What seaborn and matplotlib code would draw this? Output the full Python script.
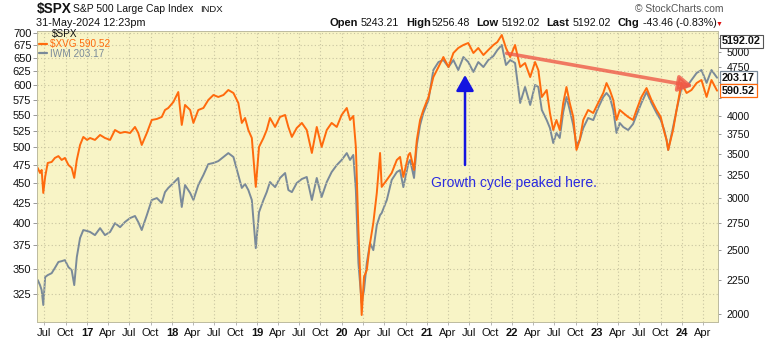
import matplotlib
matplotlib.use("Agg")
import matplotlib.pyplot as plt
import matplotlib.dates as mdates
import matplotlib.transforms as mtransforms
from matplotlib.ticker import NullLocator, FixedLocator, FixedFormatter
import pandas as pd
import seaborn as sns

# ---------------- data ----------------
dates = [
    "2016-06-03", "2016-06-13", "2016-06-20", "2016-06-27", "2016-07-05", "2016-07-16",
    "2016-08-02", "2016-08-16", "2016-08-31", "2016-09-14", "2016-09-28", "2016-10-13",
    "2016-10-27", "2016-11-07", "2016-11-18", "2016-12-02", "2016-12-16", "2017-01-01",
    "2017-01-14", "2017-02-04", "2017-02-26", "2017-03-19", "2017-04-10", "2017-05-01",
    "2017-05-23", "2017-06-13", "2017-07-05", "2017-07-26", "2017-08-09", "2017-08-24",
    "2017-09-15", "2017-10-06", "2017-10-28", "2017-11-18", "2017-12-02", "2017-12-16",
    "2018-01-07", "2018-01-28", "2018-02-12", "2018-02-26", "2018-03-20", "2018-04-03",
    "2018-04-24", "2018-05-16", "2018-06-06", "2018-06-28", "2018-07-19", "2018-08-10",
    "2018-08-31", "2018-09-22", "2018-10-13", "2018-10-28", "2018-11-11", "2018-11-25",
    "2018-12-10", "2018-12-27", "2019-01-10", "2019-01-29", "2019-02-12", "2019-02-26",
    "2019-03-20", "2019-04-10", "2019-05-02", "2019-05-16", "2019-05-31", "2019-06-21",
    "2019-07-13", "2019-08-03", "2019-08-25", "2019-09-15", "2019-10-06", "2019-10-28",
    "2019-11-18", "2019-12-10", "2019-12-31", "2020-01-22", "2020-02-05", "2020-02-19",
    "2020-03-01", "2020-03-12", "2020-03-26", "2020-04-05", "2020-04-17", "2020-05-01",
    "2020-05-15", "2020-05-30", "2020-06-13", "2020-06-20", "2020-07-12", "2020-08-02",
    "2020-08-24", "2020-09-07", "2020-09-21", "2020-10-13", "2020-10-20", "2020-11-06",
    "2020-11-18", "2020-12-02", "2020-12-16", "2021-01-07", "2021-01-28", "2021-02-19",
    "2021-03-12", "2021-04-03", "2021-04-24", "2021-05-15", "2021-06-06", "2021-06-27",
    "2021-07-19", "2021-08-09", "2021-08-31", "2021-09-21", "2021-10-13", "2021-10-30",
    "2021-11-18", "2021-12-06", "2021-12-24", "2022-01-14", "2022-02-05", "2022-02-26",
    "2022-03-20", "2022-04-10", "2022-04-24", "2022-05-09", "2022-05-30", "2022-06-13",
    "2022-06-27", "2022-07-11", "2022-07-25", "2022-08-09", "2022-08-23", "2022-09-06",
    "2022-09-21", "2022-10-05", "2022-10-19", "2022-11-03", "2022-11-24", "2022-12-16",
    "2023-01-06", "2023-01-28", "2023-02-11", "2023-02-25", "2023-03-12", "2023-03-26",
    "2023-04-09", "2023-04-24", "2023-05-15", "2023-06-05", "2023-06-20", "2023-07-11",
    "2023-08-02", "2023-08-23", "2023-09-14", "2023-10-02", "2023-10-17", "2023-10-27",
    "2023-11-03", "2023-11-24", "2023-12-09", "2023-12-30", "2024-01-21", "2024-02-11",
    "2024-03-04", "2024-03-25", "2024-04-16", "2024-05-07", "2024-05-31",
]

xvg = [
    470.8, 463.9, 468.0, 437.5, 458.5, 477.7, 479.1, 484.8, 487.4, 481.9, 484.8, 474.9,
    470.8, 457.2, 481.9, 503.6, 515.6, 511.1, 514.0, 511.1, 518.6, 514.0, 511.1, 526.2,
    521.6, 523.2, 521.6, 530.9, 521.6, 503.6, 521.6, 541.9, 543.5, 546.7, 558.0, 561.3,
    571.2, 588.2, 534.0, 566.3, 558.0, 537.2, 558.0, 561.3, 574.6, 583.1, 579.7, 583.1,
    591.7, 586.5, 569.6, 537.2, 545.1, 526.2, 514.0, 445.3, 500.7, 514.0, 526.2, 545.1,
    530.9, 546.7, 549.9, 530.9, 515.6, 529.3, 537.2, 526.2, 491.9, 530.9, 500.7, 526.2,
    537.2, 530.9, 549.9, 561.3, 541.9, 548.3, 500.7, 392.4, 305.8, 341.9, 348.9, 377.7,
    400.6, 437.5, 491.9, 445.3, 454.5, 463.9, 481.9, 486.2, 458.5, 489.1, 491.9, 468.0,
    511.1, 541.9, 558.0, 579.7, 614.6, 633.0, 651.8, 633.0, 659.5, 669.3, 675.2, 679.2,
    659.5, 669.3, 655.6, 665.3, 675.2, 681.1, 695.3, 669.3, 651.8, 675.2, 633.0, 640.4,
    614.6, 642.3, 627.4, 579.7, 591.7, 553.1, 526.2, 541.9, 526.2, 569.6, 596.9, 569.6,
    546.7, 496.3, 511.1, 541.9, 558.0, 553.1, 569.6, 586.5, 603.9, 591.7, 574.6, 541.9,
    558.0, 553.1, 546.7, 541.9, 558.0, 579.7, 595.1, 574.6, 558.0, 546.7, 523.2, 511.1,
    496.3, 526.2, 558.0, 603.9, 586.5, 591.7, 603.9, 609.3, 579.7, 609.3, 590.52,
]

iwm = [
    100.2, 98.4, 96.7, 91.8, 101.2, 101.9, 102.6, 104.5, 106.7, 107.0, 107.4, 104.8,
    103.7, 98.4, 108.5, 116.0, 119.3, 118.9, 118.5, 117.2, 120.1, 117.2, 118.5, 122.2,
    120.5, 122.7, 124.4, 125.3, 122.7, 119.3, 125.7, 132.5, 133.4, 131.1, 136.2, 138.2,
    140.6, 143.1, 129.3, 139.6, 135.8, 132.5, 139.6, 144.6, 150.2, 150.8, 151.8, 154.0,
    156.1, 154.0, 144.6, 138.2, 140.1, 137.2, 132.5, 112.0, 127.0, 132.5, 136.2, 141.1,
    138.6, 143.1, 145.6, 137.2, 136.2, 140.6, 142.6, 143.6, 132.5, 143.1, 133.9, 141.1,
    146.1, 149.7, 152.4, 156.1, 152.4, 155.1, 137.2, 106.3, 92.4, 96.7, 106.3, 114.0,
    111.2, 121.4, 125.7, 126.6, 132.5, 142.1, 146.1, 147.1, 138.6, 150.8, 152.4, 143.1,
    160.6, 172.2, 179.6, 187.9, 208.7, 214.6, 216.1, 210.9, 216.1, 208.7, 218.4, 214.6,
    207.3, 214.6, 210.9, 216.1, 219.2, 223.8, 227.8, 212.4, 216.1, 213.9, 186.0, 196.7,
    184.7, 198.1, 196.7, 181.5, 175.2, 170.4, 161.7, 167.5, 164.6, 180.2, 189.9, 181.5,
    172.2, 160.6, 163.4, 170.4, 176.5, 175.2, 182.8, 189.9, 192.6, 189.9, 181.5, 167.5,
    173.4, 171.0, 169.2, 172.8, 178.3, 186.0, 193.3, 186.0, 179.6, 175.2, 169.2, 163.4,
    157.8, 171.0, 181.5, 196.0, 196.7, 201.5, 206.5, 208.7, 199.5, 208.7, 203.17,
]

spx_last = 5192.02
left_ticks = [325, 350, 375, 400, 425, 450, 475, 500, 525, 550, 575, 600, 625, 650, 675, 700]
right_ticks = [2000, 2250, 2500, 2750, 3000, 3250, 3500, 3750, 4000, 4250, 4500, 4750, 5000, 5250]
right_hidden = [4250, 4500, 5250]   # covered by the value boxes in the reference

title_symbol = "\\$SPX"
title_name = "S&P 500 Large Cap Index"
title_exch = "INDX"
timestamp = "31-May-2024 12:23pm"
quote_fields = [("Open", "5243.21"), ("High", "5256.48"), ("Low", "5192.02"),
                ("Last", "5192.02"), ("Chg", "-43.46 (-0.83%)")]
annotation_text = "Growth cycle peaked here."

# annotation anchor points (data units)
trend_start = ("2021-12-09", 659.0)
trend_end = ("2024-02-17", 598.6)
peak_arrow_date = "2021-06-13"
peak_arrow_from, peak_arrow_to = 474.9, 618.3
note_pos = ("2021-01-18", 445.0)

# ---------------- style ----------------
sns.set_theme(style="ticks")
plt.rcParams["font.family"] = ["Liberation Sans", "DejaVu Sans"]

ORANGE = "#FF6A0D"
GRAY = "#7A8A99"
BG = "#F8F4C6"
GRID = "#C9C5A0"
W, H = 765, 338

df = pd.DataFrame({"date": pd.to_datetime(dates), "xvg": xvg, "iwm": iwm})

fig = plt.figure(figsize=(W / 100, H / 100), dpi=100)
L, R, T, B = 37, 718, 31, 322
rect = [L / W, 1 - B / H, (R - L) / W, (B - T) / H]

# background axes: IWM (drawn beneath XVG)
ax_bg = fig.add_axes(rect)
ax_bg.set_facecolor(BG)
sns.lineplot(data=df, x="date", y="iwm", ax=ax_bg, color=GRAY, lw=1.4)
ax_bg.set_yscale("log")
ax_bg.set_ylim(86.5, 239.2)
ax_bg.yaxis.set_major_locator(NullLocator())
ax_bg.yaxis.set_minor_locator(NullLocator())
ax_bg.set_ylabel("")
ax_bg.set_xlabel("")

# main axes: XVG with left scale, grid, date ticks
ax = fig.add_axes(rect, sharex=ax_bg)
ax.patch.set_visible(False)
sns.lineplot(data=df, x="date", y="xvg", ax=ax, color=ORANGE, lw=1.4)
ax.set_yscale("log")
ax.set_ylim(299.6, 703.5)
ax.yaxis.set_major_locator(FixedLocator(left_ticks))
ax.yaxis.set_major_formatter(FixedFormatter([str(t) for t in left_ticks]))
ax.yaxis.set_minor_locator(NullLocator())
ax.set_ylabel("")
ax.set_xlabel("")
ax.set_xlim(pd.Timestamp("2016-05-31"), pd.Timestamp("2024-06-04"))

quarters = pd.date_range("2016-07-01", "2024-04-01", freq="QS-JAN")
qlabels = [str(d.year % 100) if d.month == 1 else d.strftime("%b") for d in quarters]
ax.set_xticks(quarters)
ax.set_xticklabels(qlabels)
for lbl, d in zip(ax.get_xticklabels(), quarters):
    if d.month == 1:
        lbl.set_fontweight("bold")
        lbl.set_fontsize(8.6)
ax_bg.tick_params(axis="x", labelbottom=False, length=0)

ax.grid(True, axis="both", color=GRID, linestyle=(0, (1, 2.2)), lw=0.8)
ax.tick_params(axis="y", labelsize=8, length=3, width=0.6, color="#888888", pad=1, labelcolor="#111111")
ax.tick_params(axis="x", labelsize=8, length=2, width=0.6, color="#aaaaaa", pad=2, labelcolor="#111111")

# right scale ($SPX)
ax_r = ax.twinx()
ax_r.set_yscale("log")
ax_r.set_ylim(1945, 5381)
ax_r.yaxis.set_major_locator(FixedLocator(right_ticks))
ax_r.yaxis.set_major_formatter(FixedFormatter(["" if t in right_hidden else str(t) for t in right_ticks]))
ax_r.yaxis.set_minor_locator(NullLocator())
ax_r.tick_params(axis="y", labelsize=7.6, length=2, width=0.6, color="#888888", pad=4, labelcolor="#111111")
ax_r.grid(False)

for a in (ax_bg, ax, ax_r):
    for s in a.spines.values():
        s.set_color("#BEBCA0")
        s.set_linewidth(0.7)
ax_bg.set_zorder(0)
ax.set_zorder(1)
ax_r.set_zorder(2)

# trend line with arrowhead
ax.annotate("", xy=(mdates.date2num(pd.Timestamp(trend_end[0])), trend_end[1]),
            xytext=(mdates.date2num(pd.Timestamp(trend_start[0])), trend_start[1]),
            arrowprops=dict(arrowstyle="-|>,head_length=0.7,head_width=0.4",
                            color="#EF5A48", lw=2.6, alpha=0.8, shrinkA=0, shrinkB=0))

# blue arrow and note
pa = mdates.date2num(pd.Timestamp(peak_arrow_date))
ax.annotate("", xy=(pa, peak_arrow_to), xytext=(pa, peak_arrow_from),
            arrowprops=dict(arrowstyle="-|>,head_length=0.8,head_width=0.45",
                            color="#1414E0", lw=1.8, shrinkA=0, shrinkB=0))
ax.text(mdates.date2num(pd.Timestamp(note_pos[0])), note_pos[1], annotation_text,
        color="#2B2BE0", fontsize=10, va="baseline", ha="left")


def px(x, y):
    return x / W, 1 - y / H


# legend (text style, as in StockCharts)
fig.text(*px(52, 37.3), "\\$SPX", fontsize=7.2, color="#111111", va="baseline")
fig.text(*px(50, 47.3), "\\$XVG 590.52", fontsize=7.2, color=ORANGE, va="baseline")
fig.text(*px(50, 56.7), "IWM 203.17", fontsize=7.2, color=GRAY, va="baseline")
fig.lines.append(plt.Line2D([39 / W, 47 / W], [1 - 44 / H, 1 - 44 / H], color=ORANGE, lw=1.6,
                            transform=fig.transFigure))
fig.lines.append(plt.Line2D([39 / W, 47 / W], [1 - 53 / H, 1 - 53 / H], color=GRAY, lw=1.6,
                            transform=fig.transFigure))

# value boxes on the right (each on its own series' scale)
box_kw = dict(fontsize=7.8, fontweight="bold", va="center", ha="left", color="#111111",
              zorder=10, clip_on=False)
ax_r.text(1.006, spx_last, f"{spx_last:.2f}", transform=ax_r.get_yaxis_transform(),
          bbox=dict(boxstyle="square,pad=0.15", fc="white", ec="#555555", lw=0.8), **box_kw)
ax_r.text(1.006, iwm[-1], f"{iwm[-1]:.2f}",
          transform=mtransforms.blended_transform_factory(ax_r.transAxes, ax_bg.transData),
          bbox=dict(boxstyle="square,pad=0.15", fc="white", ec=GRAY, lw=0.9), **box_kw)
ax_r.text(1.006, xvg[-1], f"{xvg[-1]:.2f}",
          transform=mtransforms.blended_transform_factory(ax_r.transAxes, ax.transData),
          bbox=dict(boxstyle="square,pad=0.15", fc="white", ec=ORANGE, lw=0.9), **box_kw)

# header
fig.text(*px(37, 13.5), title_symbol, fontsize=9.8, fontweight="bold", color="#111111", va="baseline")
fig.text(*px(73, 12.5), title_name, fontsize=7.5, color="#111111", va="baseline")
fig.text(*px(200, 12.5), title_exch, fontsize=6.8, color="#111111", va="baseline")
fig.text(*px(36, 26), timestamp, fontsize=7.8, color="#111111", va="baseline")
fig.text(*px(635, 11.7), "\u00a9 StockCharts.com", fontsize=7.4, color="#555555", va="baseline")

label_x = [330, 406, 476, 546, 618]
value_x = [361, 432, 502, 573, 643]
for (lab, val), lx, vx in zip(quote_fields, label_x, value_x):
    fig.text(*px(lx, 26), lab, fontsize=8, fontweight="bold", color="#111111", va="baseline")
    fig.text(*px(vx, 26), val, fontsize=7.7, color="#111111", va="baseline")
fig.text(*px(716, 26), "\u25bc", fontsize=5, color="#DD1111", va="baseline")

fig.savefig("out.png", dpi=100)
